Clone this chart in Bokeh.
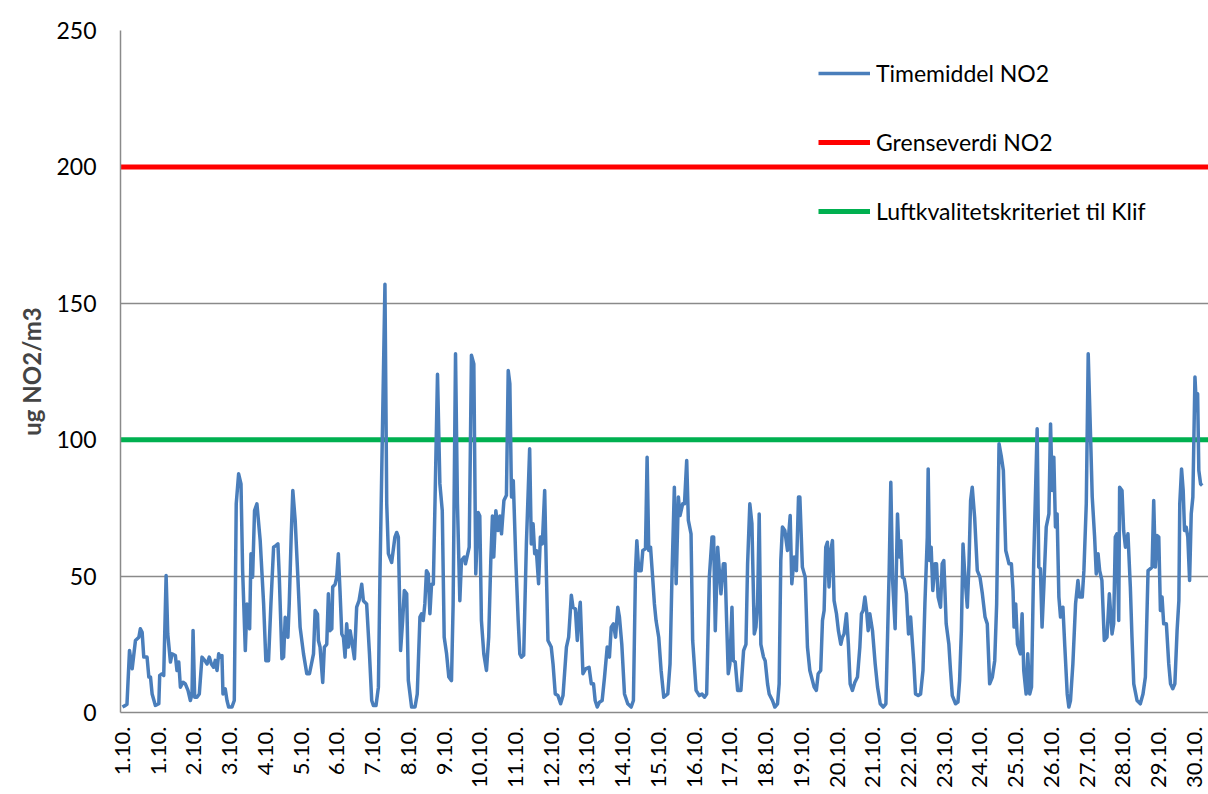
import math
from bokeh.plotting import figure
from bokeh.models import FixedTicker, Legend, LegendItem, Range1d
from bokeh.embed import file_html
from bokeh.resources import INLINE

# Hours since start of 1.10. and hourly NO2 (ug/m3)
hours = [
    0, 2, 3, 4.7, 6.5, 8.7, 11, 12, 13.2, 14.3, 16.5, 17.7, 18.8, 19.9, 22.1, 24.4, 25, 26.6, 27.7, 29.3,
    30.4, 32.2, 33.3, 35.5, 36.6, 37.8, 38.9, 40.7, 42.2, 44, 45.6, 46.7, 47.4, 48.5, 50, 51.6, 53.4, 55.2, 56.8, 58.3,
    59.7, 61.2, 62.3, 63.5, 64.6, 65.7, 66.8, 67.5, 69, 70.2, 71.3, 73.5, 75.1, 76.4, 78, 79.6, 80.7, 82.5, 83.6, 84.7,
    85.4, 86.3, 87.4, 88.7, 90.3, 92.5, 94.8, 96.3, 98.1, 99.7, 101.5, 103, 104.4, 105.3, 107.1, 108.2, 109.3, 111.1, 112, 113.3,
    114.4, 116, 117.8, 119.3, 121.6, 123.8, 125.6,
    128.3, 129.4, 131, 131.6, 132.7, 134.5, 135.6, 137.2, 138.3, 139.4, 140.6, 141.2, 142.8, 143.9, 145, 146.1, 147.3, 148.4,
    149.5, 150.6, 151.8, 152.9, 154, 155.8, 157.3, 158.9, 160.7, 161.8, 164, 165.9, 167.4, 168.5, 170.3, 171.9, 173, 176.3,
    177.5, 178.6, 180.8, 183, 184.2, 185.3, 186.8, 188.2, 189.3, 190.9, 192, 194.2, 196.5, 198,
    199.8, 200.9, 202, 203.1, 204.2, 205.4, 206.5, 207.6, 208.8, 209.9, 211.6, 213.2, 214.8, 216.1, 217.7, 219.2, 221, 222.1,
    223.7, 225, 226.6, 227.7, 229.5, 230.4, 232.9, 234.4, 236, 237.3, 238.9, 240, 241.1, 242.7, 244.5, 246, 247.4, 248.5,
    249.4, 250.8, 252.3, 253.5, 254.6, 256.2, 257.9, 259.1, 260.2, 261.3, 262.5, 264.2, 265.8, 266.9,
    268, 269.5, 271.3, 273.5, 274.6, 275.8, 276.9, 278, 279.5, 280.7, 282, 283.6, 284.7, 285.8, 288, 289.2, 290.7, 292.5,
    294.3, 295.9, 298.2, 299.7, 301.5, 302.6, 304.2, 305.5, 306.4, 307.5, 309.3, 311.1, 313.4, 314.9, 316.4, 317.5, 318.9,
    320.4, 322.2, 323.8, 325.6, 327.1, 328.3, 329.8, 331.2, 332.7,
    333.8, 335.4, 337.2, 339.4, 341.7, 343.2, 344.6, 345.5, 346.8, 348.4, 349.5, 351.3, 352.4, 353.5, 354.7, 355.8, 357.3,
    358.4, 360.2, 361.8, 363.6, 366.3, 367.8, 369.2, 370.7, 371.9, 373.4, 374.5, 376.3, 377.5, 379, 380.1, 381.9, 383,
    385.3, 387.5, 389.3, 390.9, 392.4, 394.2, 396, 397.1, 398.2, 399.8, 400.9,
    402, 403.6, 404.7, 405.8, 406.9, 408, 409.4, 410.3, 411.6, 413.2, 415.4, 417.2, 418.8, 419.9, 421.4, 422.8, 424.4,
    425.5, 426.6, 427.7, 428.8, 430.6, 431.7, 433.3, 434.4, 436.6, 438.2, 440, 441.1, 442.2, 443.3, 444.9, 446.7, 448.5,
    449.6, 451.2, 452.7, 454.1, 455, 456.7, 458.6, 460.1, 461.7,
    464.6, 466.1, 467.3, 469, 470.2, 471.3, 472.4, 473.5, 474.6, 475.8, 476.9, 478, 479.6, 480.9, 482.5, 483.6, 484.7,
    486.3, 487.6, 488.8, 490.3, 491.9, 493.7, 495.3, 496.4, 497.5, 498.7, 499.8, 500.9, 502, 503.8, 505.6, 507.2, 509,
    511, 512.8, 513.9, 515, 516.1, 517.3, 519, 520.6, 521.7, 522.8, 523.9, 525.1, 526.6, 528,
    529.4, 531.6, 532.7, 534.5, 536.1, 537.7, 539, 540.6, 541.2, 542.1, 543.2, 544.3, 545.7, 546.8, 547.9, 549.5, 550.6,
    551.7, 553.3, 555.1, 556.2, 557.4, 559.6, 561.2, 562.3, 563.5, 564.6, 565.9, 567.5, 568.6, 569.7, 570.8, 572.4, 574.2,
    576, 577.6, 579.4, 580.9, 582.5, 584.3, 585.9, 587.2, 588.8, 590.4, 591.7, 593.3, 594.4, 595.5, 597.1, 598.2, 598.9,
    600, 601.2,
    603.1, 604.3, 605.4, 607, 608.1, 609.4, 610.6, 612.1, 614.4, 615.5, 616.6, 617.7, 618.9, 620.5, 622.3, 623.4, 624.5,
    625.6, 626.7, 627.8, 629, 630.1, 631.7, 633, 634.6, 635.7, 636.8, 638.4, 640.2, 641.8, 642.9, 644.7, 645.8, 647.4,
    648.7, 650.3, 651.4, 653, 654.1, 655.3, 656.4,
    657.9, 659.5, 661.3, 662.9, 664.7, 665.8, 666.9, 668, 669.2, 669.8, 671.4, 672.5, 673.7, 675.4, 677, 678.1, 679.3,
    681.5, 683.7, 685.5, 687.1, 688.9, 690.5, 691.6, 692.7, 693.8, 694.9, 696.1, 697.2, 698.3, 699.4, 701.2, 702.8, 704,
    705.5, 706.9, 708.4, 709.6, 710.2, 711.4, 712.5, 713.4, 714.5, 715.6, 716.8, 717.9, 719, 720.4, 721.5, 722.2, 723,
    724.2, 725.3,
]
no2 = [
    2, 2.6, 3, 22.7, 16, 26.4, 27.6, 30.7, 29.4, 20.3, 20.3, 13, 13, 6.8, 2.6, 3.2, 13.6, 14.2, 13.6, 50.2,
    28.8, 18.5, 21.5, 20.9, 15.4, 18.5, 9.3, 11.1, 10.5, 8.1, 4.4, 6.8, 30.1, 5.6, 5.6, 6.8, 20.3, 19.1, 17.8, 20.3,
    17.8, 16.6, 19.1, 15.4, 21.5, 20.3, 20.9, 6.8, 8.7, 4.4, 2, 2, 4.4, 76.5, 87.5, 83.8, 52, 22.7, 39.8, 33.7,
    30.7, 58.2, 49.6, 74, 76.5, 63, 39.8, 19, 19, 39.8, 60.6, 61.2, 61.8, 50.2, 19.7, 20.3, 34.9, 27.6, 39.8, 64.3,
    81.4, 70.4, 49.6, 31.3, 21.5, 14.2, 14.2,
    21.5, 37.4, 36, 26.4, 24, 11, 24, 25, 43.5, 30, 30.7, 46, 47, 49.6, 58.2, 44.7, 28.8, 27.6,
    20.3, 32.5, 24, 30, 26.4, 19.7, 38.6, 41, 47, 41, 39.8, 21.5, 4.4, 2.6, 2.6, 9.3, 52, 157,
    76.5, 58.2, 55, 64.3, 66, 64.3, 22.7, 33.7, 44.7, 43.5, 11.7, 2, 2, 6.8,
    35, 36.2, 33.7, 39.8, 52, 50.8, 36.2, 47, 47, 76.5, 124, 83.8, 74, 27.6, 21.5, 13, 11.7, 39.8,
    131.5, 76.5, 41, 55.7, 57, 54.5, 60.6, 131, 127.8, 50.8, 73.3, 72, 33.7, 21.5, 15.4, 27.6, 55.7, 72,
    57, 74, 66.7, 72, 65.5, 77.7, 79.6, 125.4, 120.5, 79, 85, 55.7, 33.7, 21.5,
    20.3, 21, 61.8, 96.7, 61.8, 69.2, 58.2, 59.4, 47.2, 64.3, 61.8, 81.4, 52, 26.4, 24, 17.8, 6.8, 6.2,
    3.2, 6.2, 24, 27.6, 43, 38.6, 38, 26.4, 35, 40.4, 14.2, 16, 16.6, 10.5, 10.5, 4.4, 2,
    3.8, 4.4, 13, 24, 20.3, 31.3, 32.5, 27.6, 38.6,
    35, 25, 6.8, 3.2, 2, 4.4, 52, 63, 52, 52, 59.4, 60, 93.6, 59.4, 60.6, 52, 39.8,
    33.7, 27.6, 15.4, 5.6, 6.8, 17.8, 52, 82.6, 47.2, 79, 72.2, 76.5, 76.5, 92.4, 70.4, 65.5, 26.4,
    8.1, 6.2, 6.8, 5.6, 6.8, 49.6, 64.3, 64.3, 30, 60.6, 52,
    43.5, 54.5, 54.5, 33.7, 14.2, 17.8, 38.6, 19, 18.5, 8.1, 8.1, 22.7, 25, 54.5, 76.5, 69.2, 28.8,
    31.3, 39.8, 72.8, 25, 20.3, 19, 10.5, 6.8, 4.4, 2, 3.2, 10.5, 55.7, 68, 66.7, 59.4, 72.2,
    47.2, 57, 52, 79, 79, 53.3, 49.6, 24, 15.4,
    9.3, 8.1, 14.2, 15.4, 33.7, 37.4, 60.6, 62.4, 46, 59.4, 63, 41, 36.2, 30, 25, 27.6, 28.8,
    36.2, 25, 10.5, 8.1, 11, 13, 24, 36.2, 37.4, 42.3, 37.4, 30, 36.2, 30, 17.8, 9.3, 3.2,
    2, 3.2, 27.6, 52, 84.4, 48.4, 30.7, 72.8, 57, 63, 49.6, 49, 43.5, 28.8,
    35, 17.8, 6.8, 6.2, 6.8, 15.4, 39.8, 64.3, 89.3, 55.7, 60.6, 44.7, 54.5, 54.5, 42.3, 38.6, 54.5,
    55.7, 32.5, 25, 15.4, 6.2, 3.2, 3.8, 11.7, 30, 61.8, 49.6, 38.6, 54.5, 77.7, 82.6, 71.6, 52,
    49.6, 43.5, 35, 32.5, 10.5, 13, 19, 39.8, 98.5, 93.6, 88.7, 59.4, 57, 54.5, 54.5, 44.7, 31.3,
    39.8, 25,
    21.5, 36.2, 15.4, 6.8, 21.5, 6.8, 9.3, 55.7, 104, 53.3, 52.7, 31.3, 46, 68, 72.8, 105.8, 81.4,
    93.6, 68, 72.8, 42.3, 35, 38.6, 24, 6.8, 2, 4.4, 17.8, 39.8, 48.4, 42.3, 42.3, 52, 76.5,
    131.5, 100.9, 79, 64.3, 50.8, 58.2, 52,
    48.4, 26.4, 27.6, 43.5, 28.8, 32.5, 64.3, 65.5, 33.7, 82.6, 81.4, 66.7, 60.6, 65.5, 46, 27.6, 10.5,
    4.4, 3.2, 6.8, 13, 52, 52.7, 53.3, 77.7, 53.3, 64.9, 64.3, 37.4, 42.3, 32.5, 32.5, 17.8, 10.5,
    8.7, 10.5, 30, 41, 76.5, 89.3, 81.4, 66.7, 68, 64.3, 48.4, 72.8, 79, 123, 110.7, 116.8, 88.7,
    83.8, 83.2,
]

grenseverdi_no2 = 200   # limit value NO2
klif_kriterium = 100    # air quality criterion (Klif)

tick_hours = [0, 24, 48, 72, 96, 120, 144, 168, 192, 216, 240, 264, 288, 312, 336, 360,
              384, 408, 432, 456, 480, 504, 528, 552, 576, 600, 624, 648, 672, 696, 720]
tick_labels = ["1.10.", "1.10.", "2.10.", "3.10.", "4.10.", "5.10.", "6.10.", "7.10.", "8.10.", "9.10.",
               "10.10.", "11.10.", "12.10.", "13.10.", "14.10.", "15.10.", "16.10.", "17.10.", "18.10.",
               "19.10.", "20.10.", "21.10.", "22.10.", "23.10.", "24.10.", "25.10.", "26.10.", "27.10.",
               "28.10.", "29.10.", "30.10."]
y_ticks = [0, 50, 100, 150, 200, 250]

FONT = "Lato"
GRID = "#8a8a8a"

x_start, x_end = -1.34, 729.5
p = figure(width=1208, height=794, output_backend="svg", toolbar_location=None,
           x_range=Range1d(x_start, x_end), y_range=Range1d(0, 250),
           min_border_left=120, min_border_right=0, min_border_top=30, min_border_bottom=82)
p.outline_line_color = None
p.background_fill_color = "white"
p.border_fill_color = "white"

# axes
p.yaxis.ticker = FixedTicker(ticks=y_ticks)
p.yaxis.axis_label = "ug NO2/m3"
p.yaxis.axis_label_text_font = FONT
p.yaxis.axis_label_text_font_style = "bold"
p.yaxis.axis_label_text_font_size = "24px"
p.yaxis.axis_label_standoff = 7
p.yaxis.major_label_text_font = FONT
p.yaxis.major_label_text_font_size = "23px"
p.yaxis.major_label_text_color = "black"
p.yaxis.major_label_standoff = 24
p.yaxis.major_tick_out = 0
p.yaxis.major_tick_in = 0
p.yaxis.minor_tick_out = 0
p.yaxis.minor_tick_in = 0
p.yaxis.axis_line_color = GRID
p.yaxis.axis_line_width = 1.5

p.xaxis.ticker = FixedTicker(ticks=tick_hours)
p.xaxis.major_label_overrides = {h: lab for h, lab in zip(tick_hours, tick_labels)}
p.xaxis.major_label_orientation = math.pi / 2
p.xaxis.major_label_text_font = FONT
p.xaxis.major_label_text_font_size = "22px"
p.xaxis.major_label_text_color = "black"
p.xaxis.major_label_standoff = 14
p.xaxis.major_tick_out = 0
p.xaxis.major_tick_in = 0
p.xaxis.minor_tick_out = 0
p.xaxis.minor_tick_in = 0
p.xaxis.axis_line_color = GRID
p.xaxis.axis_line_width = 1.5

p.xgrid.visible = False
p.ygrid.ticker = FixedTicker(ticks=y_ticks)
p.ygrid.grid_line_color = GRID
p.ygrid.grid_line_width = 1.5

# series
r_klif = p.line(x=[x_start, x_end], y=[klif_kriterium, klif_kriterium], line_color="#00b050", line_width=5)
r_grense = p.line(x=[x_start, x_end], y=[grenseverdi_no2, grenseverdi_no2], line_color="#ff0000", line_width=5)
r_time = p.line(x=hours, y=no2, line_color="#4a7ebb", line_width=3.5, line_join="round")

legend = Legend(items=[
    LegendItem(label="Timemiddel NO2", renderers=[r_time]),
    LegendItem(label="Grenseverdi NO2", renderers=[r_grense]),
    LegendItem(label="Luftkvalitetskriteriet til Klif", renderers=[r_klif]),
], location=(698, 487), padding=0, spacing=41, label_height=28, glyph_height=28, glyph_width=52,
    label_standoff=6, border_line_color=None, background_fill_alpha=0,
    label_text_font=FONT, label_text_font_size="23px", label_text_color="black")
p.add_layout(legend)

open("out.html", "w").write(file_html(p, INLINE))
